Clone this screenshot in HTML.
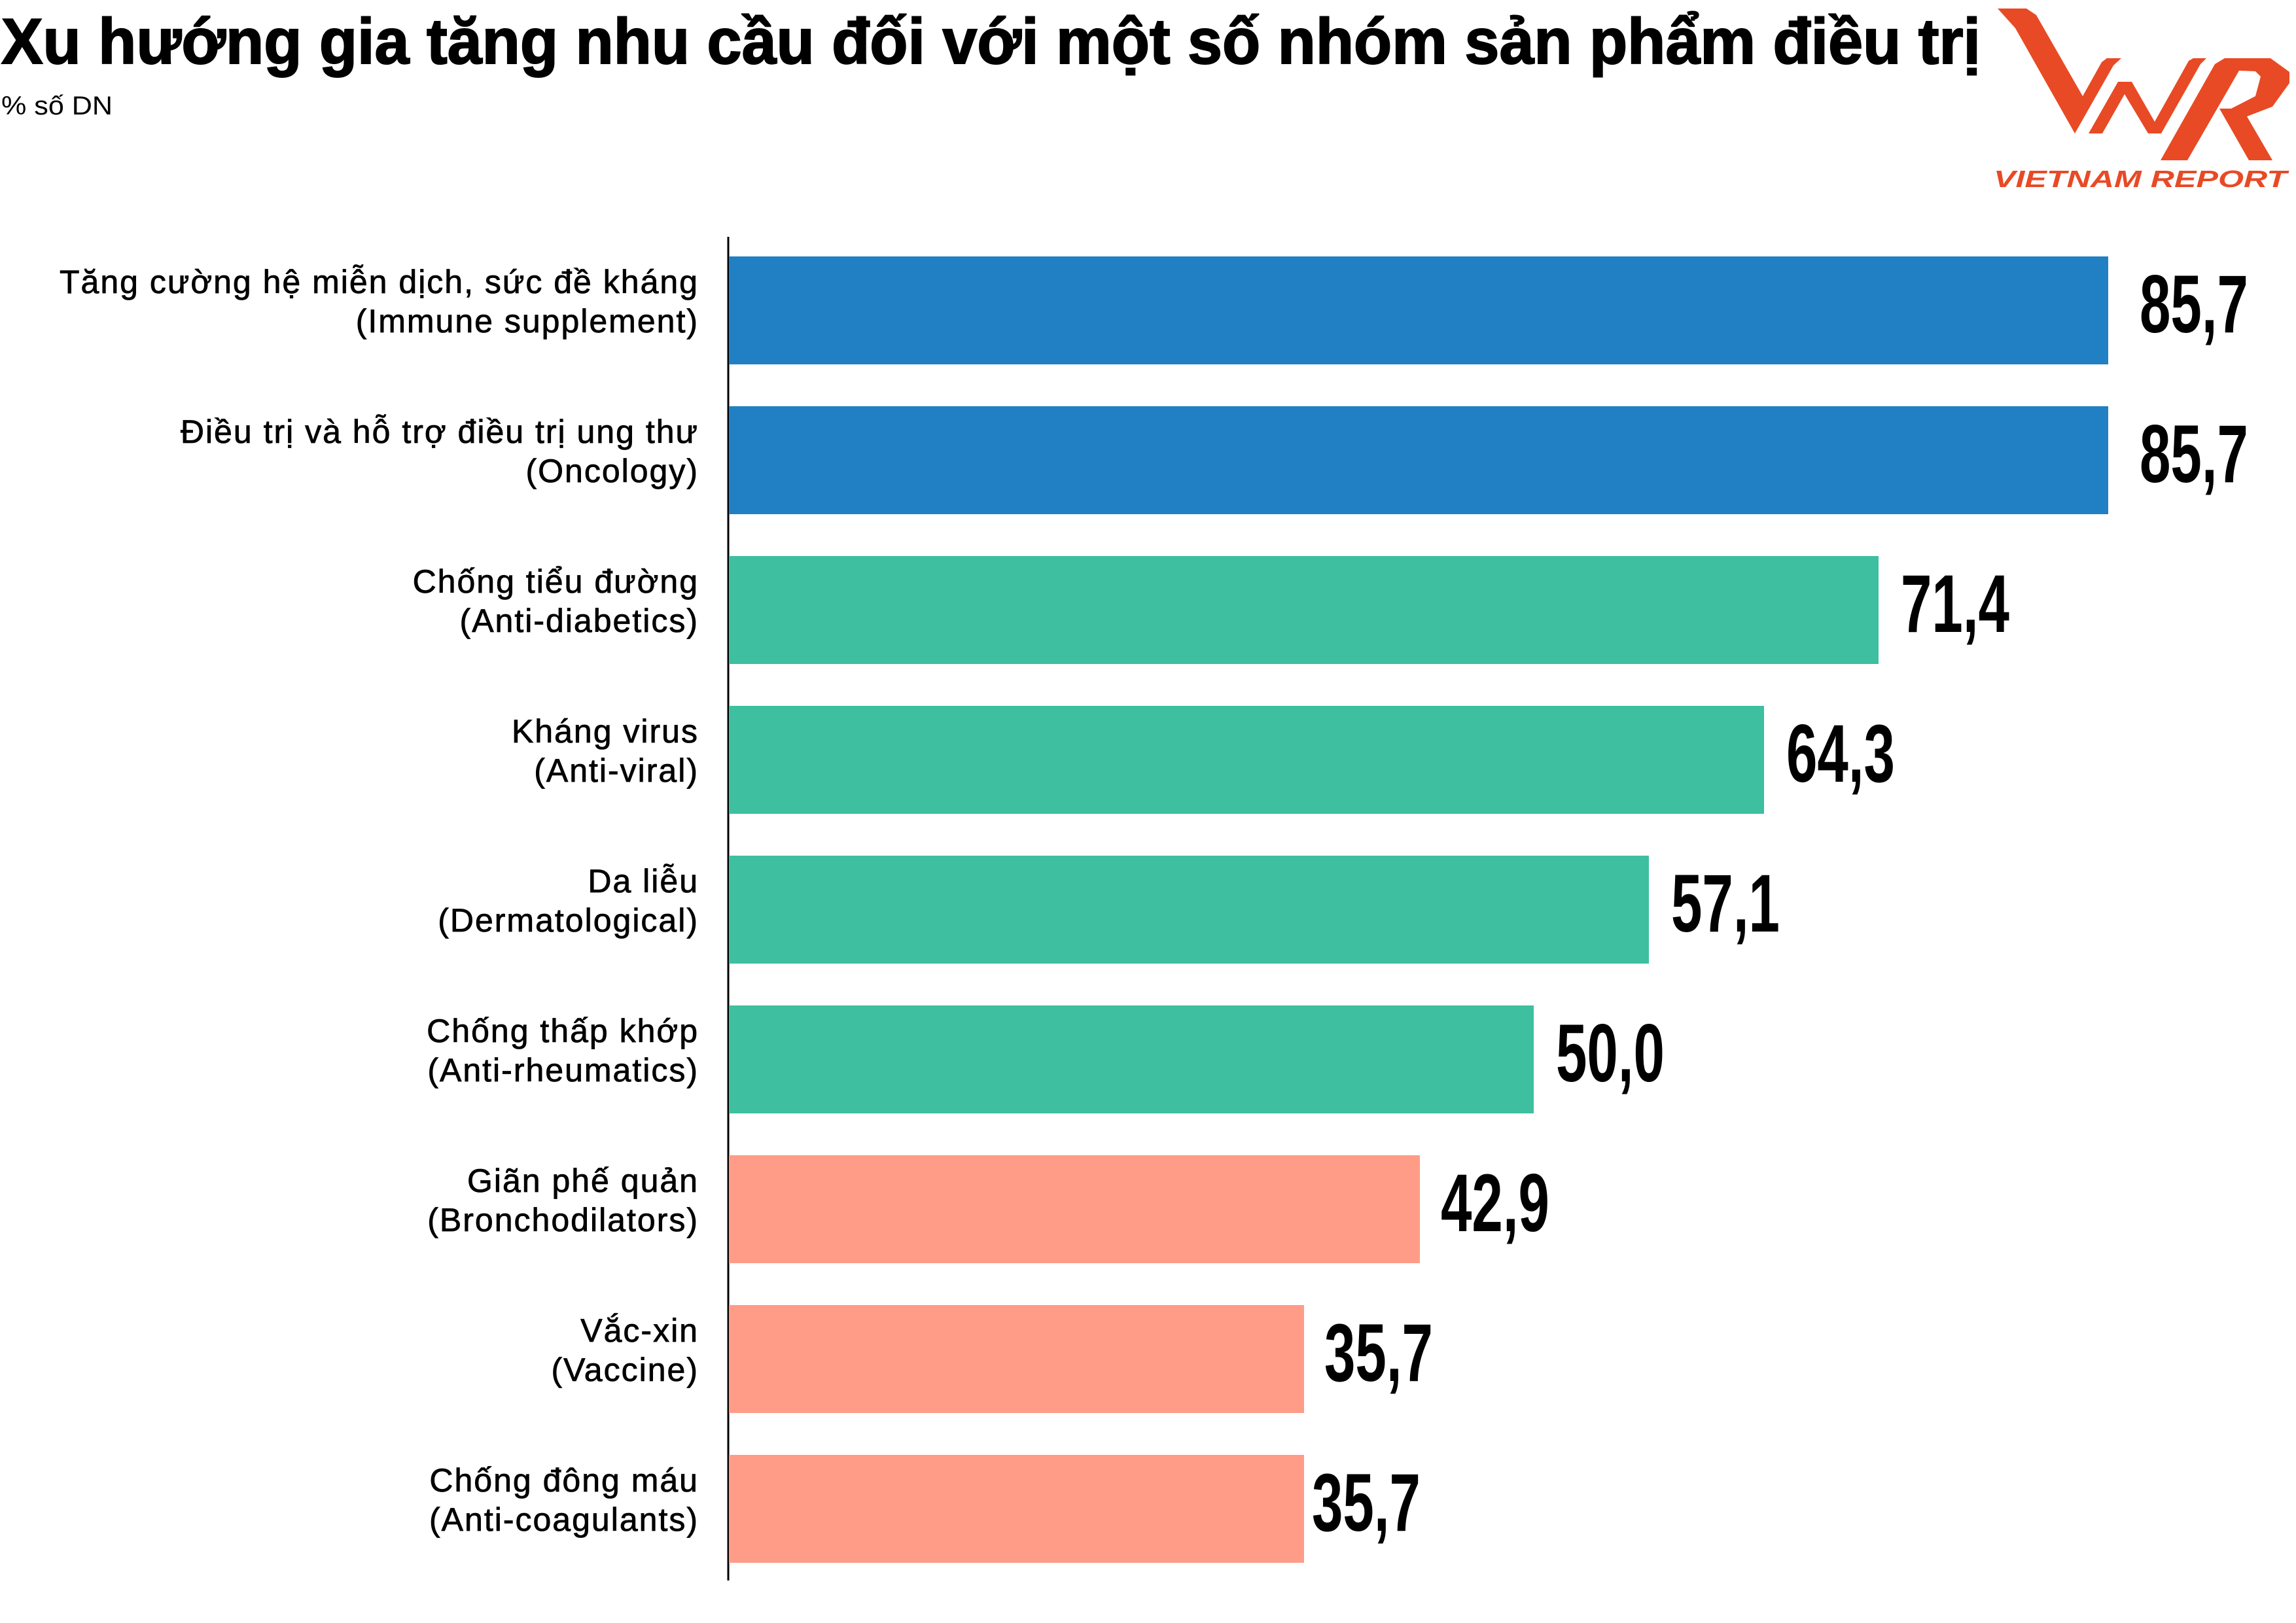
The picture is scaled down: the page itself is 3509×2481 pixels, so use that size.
<!DOCTYPE html>
<html><head><meta charset="utf-8"><style>html,body{margin:0;padding:0;background:#fff}svg{display:block}</style></head>
<body>
<svg width="3509" height="2481" viewBox="0 0 3509 2481" xmlns="http://www.w3.org/2000/svg">
<rect width="3509" height="2481" fill="#fff"/>
<text x="2" y="97" font-family="Liberation Sans, sans-serif" font-weight="bold" font-size="98" textLength="3025" lengthAdjust="spacingAndGlyphs" fill="#000" stroke="#000" stroke-width="2">Xu hướng gia tăng nhu cầu đối với một số nhóm sản phẩm điều trị</text>
<text x="2" y="175" font-family="Liberation Sans, sans-serif" font-size="40" textLength="170" lengthAdjust="spacingAndGlyphs" fill="#000">% số DN</text>
<g fill="#E84A25">
<polygon points="3053,13 3097,13 3112,23 3183,147 3212,95 3220,89 3242,89 3230,100 3171,204 3080,43"/>
<polygon points="3192,204 3237,125 3258,125 3293,186 3345,93 3352,89 3372,89 3363,98 3303,204 3283,204 3247,144 3213,204"/>
<polygon points="3302,245 3385,98 3400,89 3470,89 3499,110 3499,127 3473,163 3434,178 3473,245 3437,245 3392,166 3410,166 3447,147 3455,117 3447,109 3422,108 3343,245"/>
<text x="3047" y="286" font-family="Liberation Sans, sans-serif" font-weight="bold" font-style="italic" font-size="36" textLength="448" lengthAdjust="spacingAndGlyphs">VIETNAM REPORT</text>
</g>
<line x1="1113" y1="362" x2="1113" y2="2416" stroke="#000" stroke-width="3"/>
<g font-family="Liberation Sans, sans-serif" font-size="50" letter-spacing="2" fill="#000" stroke="#000" stroke-width="0.8" text-anchor="end">
<text x="1068" y="448">Tăng cường hệ miễn dịch, sức đề kháng</text><text x="1068" y="508">(Immune supplement)</text>
<text x="1068" y="677">Điều trị và hỗ trợ điều trị ung thư</text><text x="1068" y="737">(Oncology)</text>
<text x="1068" y="906">Chống tiểu đường</text><text x="1068" y="966">(Anti-diabetics)</text>
<text x="1068" y="1135">Kháng virus</text><text x="1068" y="1195">(Anti-viral)</text>
<text x="1068" y="1364">Da liễu</text><text x="1068" y="1424">(Dermatological)</text>
<text x="1068" y="1593">Chống thấp khớp</text><text x="1068" y="1653">(Anti-rheumatics)</text>
<text x="1068" y="1822">Giãn phế quản</text><text x="1068" y="1882">(Bronchodilators)</text>
<text x="1068" y="2051">Vắc-xin</text><text x="1068" y="2111">(Vaccine)</text>
<text x="1068" y="2280">Chống đông máu</text><text x="1068" y="2340">(Anti-coagulants)</text>
</g>
<g>
<rect x="1114" y="392" width="2108" height="165" fill="#2080C3"/>
<rect x="1114" y="621" width="2108" height="165" fill="#2080C3"/>
<rect x="1114" y="850" width="1757" height="165" fill="#3DBFA0"/>
<rect x="1114" y="1079" width="1582" height="165" fill="#3DBFA0"/>
<rect x="1114" y="1308" width="1406" height="165" fill="#3DBFA0"/>
<rect x="1114" y="1537" width="1230" height="165" fill="#3DBFA0"/>
<rect x="1114" y="1766" width="1056" height="165" fill="#FF9C87"/>
<rect x="1114" y="1995" width="879" height="165" fill="#FF9C87"/>
<rect x="1114" y="2224" width="879" height="165" fill="#FF9C87"/>
</g>
<g font-family="Liberation Sans Narrow, Liberation Sans, sans-serif" font-weight="bold" font-size="125" fill="#000">
<text x="3270" y="508" textLength="166" lengthAdjust="spacingAndGlyphs">85,7</text>
<text x="3270" y="737" textLength="166" lengthAdjust="spacingAndGlyphs">85,7</text>
<text x="2905" y="966" textLength="166" lengthAdjust="spacingAndGlyphs">71,4</text>
<text x="2730" y="1195" textLength="166" lengthAdjust="spacingAndGlyphs">64,3</text>
<text x="2554" y="1424" textLength="166" lengthAdjust="spacingAndGlyphs">57,1</text>
<text x="2378" y="1653" textLength="166" lengthAdjust="spacingAndGlyphs">50,0</text>
<text x="2202" y="1882" textLength="166" lengthAdjust="spacingAndGlyphs">42,9</text>
<text x="2024" y="2111" textLength="166" lengthAdjust="spacingAndGlyphs">35,7</text>
<text x="2005" y="2340" textLength="166" lengthAdjust="spacingAndGlyphs">35,7</text>
</g>
</svg>
</body></html>
